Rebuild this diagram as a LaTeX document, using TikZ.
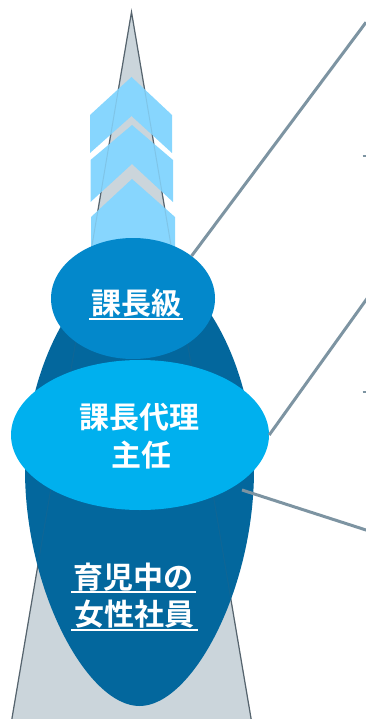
\documentclass[tikz,border=0pt]{standalone}
\usepackage{fontspec}
\newfontfamily\cjk{Noto Sans CJK JP}[BoldFont={Noto Sans CJK JP Bold}]
\usetikzlibrary{shapes.geometric}
\definecolor{spirefill}{HTML}{CBD5DB}
\definecolor{spireline}{HTML}{56646E}
\definecolor{chev}{HTML}{87D6FE}
\definecolor{darkblue}{HTML}{03679D}
\definecolor{midblue}{HTML}{0388CB}
\definecolor{lightblue}{HTML}{00B0EE}
\definecolor{conn}{HTML}{7D94A2}
\tikzset{
  oval/.style={ellipse, inner sep=0pt, draw=none},
  lbl/.style={text=white, inner sep=0pt, font=\cjk\bfseries\fontsize{30}{36}\selectfont},
  ul/.style={white, line width=1.6pt},
  connector/.style={conn, line width=3pt},
  chevron/.style={fill=chev, draw=none},
}
\begin{document}
\begin{tikzpicture}[x=1pt,y=-1pt]
\useasboundingbox (0,0) rectangle (366,719);
\clip (0,0) rectangle (366,719);
% spire
\draw[fill=spirefill, draw=spireline, line width=1.2pt] (131.5,12) -- (253,730) -- (10,730) -- cycle;
% chevrons
\fill[chevron] (90,115) -- (131.5,77) -- (172,115) -- (172,153) -- (131.5,116) -- (90,153) -- cycle;
\fill[chevron] (90.5,160) -- (132,125) -- (173,160) -- (173,202) -- (132,164) -- (90.5,202) -- cycle;
\fill[chevron] (91,217) -- (132,179) -- (175,217) -- (175,270) -- (91,270) -- cycle;
% egg-shaped base
\fill[darkblue] (139.5,262) .. controls (194,262) and (254,360) .. (254,470)
  .. controls (254,590) and (192,706) .. (139.5,706)
  .. controls (87,706) and (25,590) .. (25,470)
  .. controls (25,360) and (85,262) .. (139.5,262) -- cycle;
% faint spire edges
\draw[spireline, opacity=0.15, line width=1pt] (131.5,12) -- (253,730) (131.5,12) -- (10,730);
% upper ellipses
\node[oval, fill=midblue, minimum width=164pt, minimum height=121pt] (k1) at (133,298.5) {};
\node[oval, fill=lightblue, minimum width=258pt, minimum height=150pt] (k2) at (140,435) {};
% labels
\node[lbl] (t1) at (136,303.5) {課長級};
\draw[ul] (89,319) -- (183,319);
\node[lbl] (t2) at (139.5,417) {課長代理};
\node[lbl] (t3) at (141,455) {主任};
\node[lbl] (t4) at (133,577) {育児中の};
\draw[ul] (71,592) -- (196,592);
\node[lbl] (t5) at (134,614) {女性社員};
\draw[ul] (71,630) -- (198,630);
% connectors
\coordinate (e1) at (366,22.3);
\coordinate (e2) at (380,280.5);
\coordinate (s3) at (242,490);
\coordinate (e3) at (380,534.5);
\draw[connector] (k1.36) -- (e1);
\draw[connector] (k2.east) -- (e2);
\draw[connector] (s3) -- (e3);
% marks at right edge
\coordinate (m1) at (362.5,156);
\coordinate (m2) at (362.5,392);
\draw[conn, line width=2pt] (m1) -- ++(4,0);
\draw[conn, line width=2pt] (m2) -- ++(4,0);
\end{tikzpicture}
\end{document}
